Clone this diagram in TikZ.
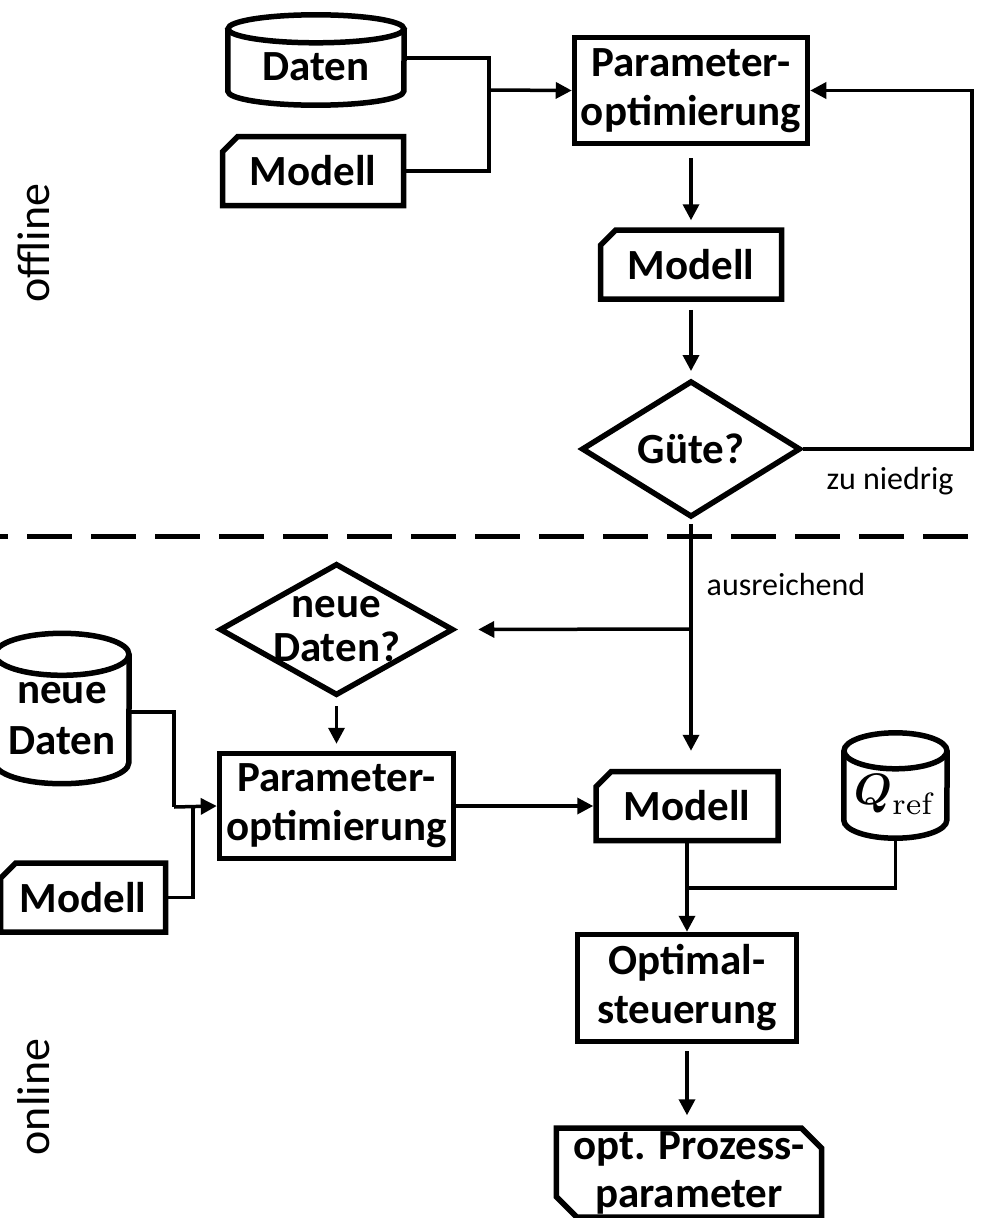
\documentclass[tikz,border=0pt]{standalone}
\usepackage{amsmath}
\usepackage[no-math]{fontspec}
\setmainfont{Carlito}
\usetikzlibrary{shapes.geometric,shapes.misc,arrows.meta}

% outline of a data cylinder round the body node #1 (x radius #2, y radius #3)
\newcommand{\drawcyl}[3]{%
  \draw[line width=5.5pt] ([yshift=#3]#1.north) ellipse [x radius=#2, y radius=#3];
  \draw[line width=5.5pt] ([yshift=#3]#1.north west) -- (#1.south west)
    arc [start angle=180, end angle=360, x radius=#2, y radius=#3]
    -- ([yshift=#3]#1.north east);
}

\begin{document}
\begin{tikzpicture}
  \tikzset{
    procbox/.style={
      rectangle,
      draw=black,
      line width=5.5pt,
      inner sep=0pt,
      align=center,
      font=\bfseries\fontsize{43}{49}\selectfont
    },
    modbox/.style={
      chamfered rectangle,
      chamfered rectangle corners=north west,
      chamfered rectangle xsep=12pt,
      draw=black,
      line width=5.5pt,
      inner sep=0pt,
      minimum height=69pt,
      align=center,
      font=\bfseries\fontsize{43}{49}\selectfont
    },
    cylbody/.style={
      rectangle,
      inner sep=0pt,
      align=center,
      font=\bfseries\fontsize{43}{51}\selectfont
    },
    decide/.style={
      diamond,
      draw=black,
      line width=5.5pt,
      inner sep=0pt,
      font=\bfseries\fontsize{43}{49}\selectfont
    },
    conn/.style={line width=3.5pt},
    arr/.style={line width=3.5pt, -{Triangle[length=16pt,width=16pt]}},
    small/.style={font=\fontsize{32}{36}\selectfont},
    phase/.style={font=\fontsize{46}{50}\selectfont, rotate=90}
  }

  \useasboundingbox (0pt,0pt) rectangle (981pt,-1218pt);

  % offline
  \node[cylbody, minimum width=176pt, minimum height=48pt] (daten) at (316pt,-67pt) {Daten};
  \drawcyl{daten}{88pt}{14pt}
  \node[modbox, minimum width=181pt] (mod1) at (313pt,-171pt) {Modell};
  \node[procbox, minimum width=233pt, minimum height=106pt] (opt1) at (691pt,-90.5pt) {Parameter-\\optimierung};
  \node[modbox, minimum width=181pt] (mod2) at (691pt,-264.5pt) {Modell};
  \node[decide, minimum width=219pt, minimum height=135pt] (guete) at (691pt,-449pt) {Güte?};

  \coordinate (jtop) at (489pt,-90pt);
  \coordinate (fb) at (972pt,-449pt);
  \draw[conn] ([yshift=9pt]daten.east) -| (jtop);
  \draw[conn] (mod1.east) -| (jtop);
  \draw[arr] (jtop) -- (opt1.west);
  \draw[arr, shorten <=12pt, shorten >=7pt] (opt1.south) -- (mod2.north);
  \draw[arr, shorten <=8pt, shorten >=7pt] (mod2.south) -- (guete.north);
  \draw[arr] (guete.east) -- (fb) |- (opt1.east);
  \node[small] (low) at (890pt,-481pt) {zu niedrig};

  \draw[line width=5pt, dash pattern=on 45pt off 19pt, dash phase=37pt] (0pt,-536pt) -- (981pt,-536pt);
  \node[phase] (offl) at (34pt,-243pt) {offline};
  \node[phase] (onl) at (34pt,-1097pt) {online};

  % online
  \node[decide, minimum width=234pt, minimum height=132pt,
    label={[align=center, font=\bfseries\fontsize{43}{44}\selectfont]center:neue\\Daten?}] (neu) at (336.5pt,-629.5pt) {};
  \node[procbox, minimum width=234pt, minimum height=105pt] (opt2) at (336.5pt,-806pt) {Parameter-\\optimierung};
  \node[cylbody, minimum width=134pt, minimum height=87pt] (ndaten) at (62pt,-719pt) {neue\\Daten};
  \drawcyl{ndaten}{67pt}{21pt}
  \node[modbox, minimum width=165pt] (mod4) at (83pt,-897.5pt) {Modell};
  \node[modbox, minimum width=182pt] (mod3) at (687pt,-806pt) {Modell};
  \node[cylbody, minimum width=103pt, minimum height=51pt] (qref) at (895.5pt,-794.5pt)
    {\fontsize{10}{12}\selectfont\scalebox{4.4}{$\boldsymbol{Q}_{\mathrm{ref}}$}};
  \drawcyl{qref}{51.5pt}{18pt}
  \node[procbox, minimum width=219pt, minimum height=107pt] (opt3) at (687pt,-988pt) {Optimal-\\steuerung};
  \node[chamfered rectangle, chamfered rectangle corners={north east,south west}, chamfered rectangle xsep=17pt,
    draw=black, line width=5.5pt, inner sep=0pt, align=center, minimum width=219pt, minimum height=86pt,
    font=\bfseries\fontsize{43}{48}\selectfont] (out) at (689pt,-1172.5pt) {opt. Prozess-\\parameter};

  \coordinate (split) at (691pt,-629pt);
  \coordinate (jlow) at (174pt,-807pt);
  \coordinate (jlow2) at (193pt,-807pt);
  \coordinate (jq) at (687pt,-888pt);
  \draw[conn, shorten <=4pt] (guete.south) -- (split);
  \draw[arr, shorten >=22pt] (split) -- (neu.east);
  \draw[arr, shorten >=18pt] (split) -- (split |- mod3.north);
  \node[small] (enough) at (786pt,-585pt) {ausreichend};
  \draw[arr, shorten <=8pt, shorten >=7pt] (neu.south) -- (opt2.north);
  \draw[conn] ([yshift=7pt]ndaten.east) -| (jlow);
  \draw[conn] (mod4.east) -| (jlow2);
  \draw[arr] (jlow) -- (opt2.west);
  \draw[arr] (opt2.east) -- (mod3.west);
  \draw[conn] ([yshift=-18pt]qref.south) |- (jq);
  \draw[arr] (mod3.south) -- (opt3.north);
  \draw[arr, shorten <=7pt, shorten >=10pt] (opt3.south) -- (opt3.south |- out.north);
\end{tikzpicture}
\end{document}
